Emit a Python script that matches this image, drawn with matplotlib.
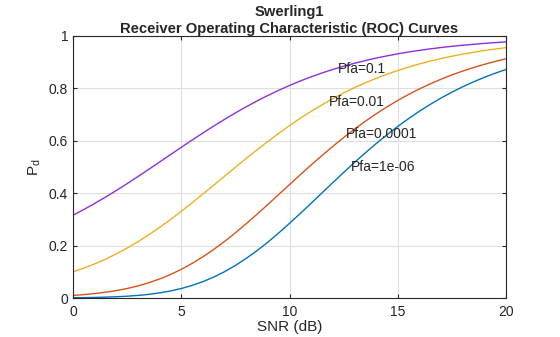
import matplotlib
matplotlib.use("Agg")
import matplotlib.pyplot as plt

plt.rcParams["font.family"] = ["Liberation Sans", "DejaVu Sans"]

# SNR grid in dB
snr_db = [0, 0.5, 1, 1.5, 2, 2.5, 3, 3.5, 4, 4.5, 5, 5.5, 6, 6.5, 7, 7.5, 8, 8.5,
          9, 9.5, 10, 10.5, 11, 11.5, 12, 12.5, 13, 13.5, 14, 14.5, 15, 15.5,
          16, 16.5, 17, 17.5, 18, 18.5, 19, 19.5, 20]

# Probability of detection for each false-alarm probability
pd_pfa_1e6 = [0.0010, 0.0015, 0.0022, 0.0033, 0.0048, 0.0069, 0.0099, 0.0140,
              0.0196, 0.0268, 0.0362, 0.0480, 0.0624, 0.0799, 0.1005, 0.1242,
              0.1511, 0.1809, 0.2133, 0.2482, 0.2848, 0.3229, 0.3618, 0.4011,
              0.4404, 0.4792, 0.5172, 0.5539, 0.5892, 0.6229, 0.6548, 0.6848,
              0.7129, 0.7390, 0.7632, 0.7856, 0.8061, 0.8250, 0.8422, 0.8579,
              0.8722]
pd_pfa_1e4 = [0.0100, 0.0130, 0.0169, 0.0220, 0.0283, 0.0363, 0.0462, 0.0582,
              0.0726, 0.0896, 0.1094, 0.1320, 0.1574, 0.1855, 0.2161, 0.2489,
              0.2836, 0.3199, 0.3570, 0.3949, 0.4329, 0.4706, 0.5077, 0.5439,
              0.5789, 0.6124, 0.6443, 0.6745, 0.7029, 0.7294, 0.7540, 0.7769,
              0.7980, 0.8174, 0.8351, 0.8514, 0.8661, 0.8796, 0.8918, 0.9028,
              0.9129]
pd_pfa_1e2 = [0.1000, 0.1142, 0.1302, 0.1482, 0.1684, 0.1906, 0.2149, 0.2413,
              0.2695, 0.2994, 0.3308, 0.3633, 0.3967, 0.4307, 0.4649, 0.4989,
              0.5326, 0.5656, 0.5975, 0.6284, 0.6579, 0.6860, 0.7126, 0.7375,
              0.7608, 0.7826, 0.8027, 0.8213, 0.8384, 0.8540, 0.8683, 0.8814,
              0.8933, 0.9041, 0.9139, 0.9227, 0.9307, 0.9379, 0.9444, 0.9502,
              0.9554]
pd_pfa_1e1 = [0.3162, 0.3379, 0.3608, 0.3850, 0.4103, 0.4366, 0.4636, 0.4912,
              0.5191, 0.5472, 0.5751, 0.6028, 0.6299, 0.6563, 0.6818, 0.7064,
              0.7298, 0.7520, 0.7730, 0.7927, 0.8111, 0.8283, 0.8441, 0.8588,
              0.8723, 0.8846, 0.8959, 0.9062, 0.9156, 0.9241, 0.9319, 0.9388,
              0.9452, 0.9508, 0.9560, 0.9606, 0.9647, 0.9684, 0.9718, 0.9748,
              0.9775]

curve_labels = ["Pfa=1e-06", "Pfa=0.0001", "Pfa=0.01", "Pfa=0.1"]
label_x = [12.84, 12.6, 11.82, 12.24]
label_y = [0.50, 0.626, 0.748, 0.874]
colors = ["#0072BD", "#D95319", "#EDB120", "#8E2FD8"]

fig = plt.figure(figsize=(5.6, 3.37), dpi=100)
ax = fig.add_axes([0.1304, 0.1157, 0.7732, 0.7775])

for ys, c in zip([pd_pfa_1e6, pd_pfa_1e4, pd_pfa_1e2, pd_pfa_1e1], colors):
    ax.plot(snr_db, ys, color=c, linewidth=1.0)

for t, x, y in zip(curve_labels, label_x, label_y):
    ax.text(x, y, t, fontsize=10, color="#262626", ha="left", va="center")

ax.set_xlim(0, 20)
ax.set_ylim(0, 1)
ax.set_xticks([0, 5, 10, 15, 20])
ax.set_yticks([0, 0.2, 0.4, 0.6, 0.8, 1])
ax.set_yticklabels(["0", "0.2", "0.4", "0.6", "0.8", "1"])
ax.grid(True, color="#dfdfdf", linewidth=0.8)
ax.set_axisbelow(True)
ax.tick_params(direction="in", length=3, labelsize=10, colors="#262626",
               top=True, right=True)
ax.tick_params(axis="x", pad=5)
for s in ax.spines.values():
    s.set_color("#262626")
    s.set_linewidth(0.8)

ax.set_xlabel("SNR (dB)", fontsize=11, color="#262626", labelpad=1)
ax.set_ylabel("P$_\\mathregular{d}$", fontsize=11, color="#262626", labelpad=4)
ax.set_title("Swerling1\nReceiver Operating Characteristic (ROC) Curves",
             fontsize=10.6, fontweight="bold", color="#262626", pad=2,
             linespacing=1.25)

fig.savefig("out.png", dpi=100)
